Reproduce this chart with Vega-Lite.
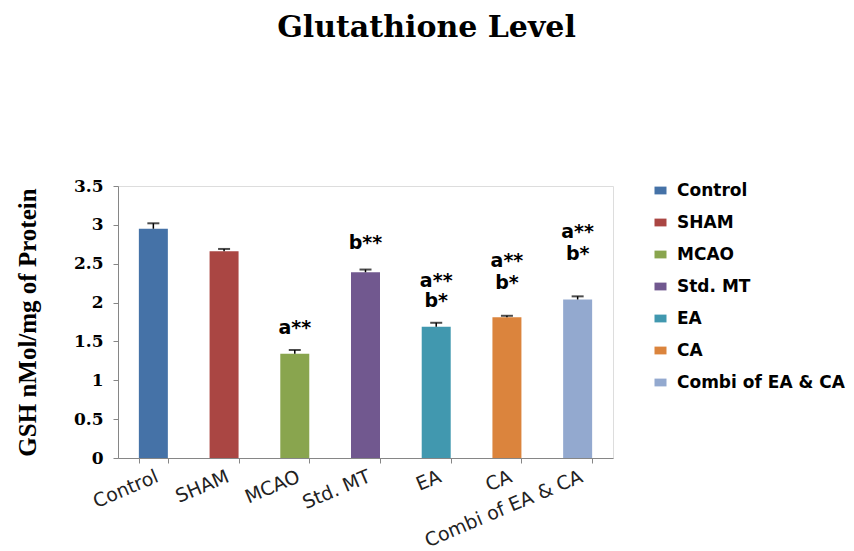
{
  "$schema": "https://vega.github.io/schema/vega-lite/v6.json",
  "width": 495,
  "height": 272,
  "autosize": "none",
  "padding": {"left": 118, "top": 186, "right": 241, "bottom": 93},
  "background": "white",
  "title": {
    "text": "Glutathione Level",
    "font": "DejaVu Serif",
    "fontSize": 30,
    "fontWeight": "bold",
    "color": "black",
    "anchor": "middle",
    "dx": 61,
    "offset": 134
  },
  "config": {
    "axisY": {
      "labelOverlap": false,
      "labelFlush": false,
      "labelBound": false,
      "labelFont": "DejaVu Serif",
      "labelFontSize": 17,
      "labelFontWeight": "bold",
      "labelColor": "black",
      "labelPadding": 10,
      "tickSize": 5,
      "tickColor": "#868686",
      "domainColor": "#868686",
      "grid": false
    }
  },
  "datasets": {
    "groups": [
      {"group": "Control", "gsh": 2.95, "err": 0.07},
      {"group": "SHAM", "gsh": 2.66, "err": 0.03},
      {"group": "MCAO", "gsh": 1.34, "err": 0.05},
      {"group": "Std. MT", "gsh": 2.39, "err": 0.035},
      {"group": "EA", "gsh": 1.69, "err": 0.05},
      {"group": "CA", "gsh": 1.81, "err": 0.02},
      {"group": "Combi of EA & CA", "gsh": 2.04, "err": 0.04}
    ],
    "significance": [
      {"group": "MCAO", "mark": "a**", "at": 1.67},
      {"group": "Std. MT", "mark": "b**", "at": 2.77},
      {"group": "EA", "mark": "a**", "at": 2.28},
      {"group": "EA", "mark": "b*", "at": 2.02},
      {"group": "CA", "mark": "a**", "at": 2.53},
      {"group": "CA", "mark": "b*", "at": 2.25},
      {"group": "Combi of EA & CA", "mark": "a**", "at": 2.91},
      {"group": "Combi of EA & CA", "mark": "b*", "at": 2.63}
    ]
  },
  "encoding": {
    "x": {
      "field": "group",
      "type": "nominal",
      "sort": null,
      "scale": {"paddingInner": 0.59, "paddingOuter": 0.295},
      "axis": {
        "title": null,
        "labelAngle": -23,
        "labelAlign": "right",
        "labelBaseline": "top",
        "labelPadding": 4,
        "labelFont": "DejaVu Sans",
        "labelFontSize": 19,
        "labelColor": "#222222",
        "labelOverlap": false,
        "labelBound": false,
        "tickBand": "extent",
        "tickSize": 5,
        "tickColor": "#868686",
        "domainColor": "#868686"
      }
    }
  },
  "layer": [
    {
      "data": {"name": "groups"},
      "mark": {"type": "bar"},
      "encoding": {
        "y": {
          "field": "gsh",
          "type": "quantitative",
          "scale": {"domain": [0, 3.5], "nice": false},
          "axis": {
            "title": "GSH nMol/mg of Protein",
            "titleFont": "Liberation Serif",
            "titleFontSize": 25,
            "titleFontWeight": "bold",
            "titleColor": "black",
            "titleX": -91,
            "titleY": 136,
            "titleAngle": -90,
            "titleAlign": "center",
            "titleBaseline": "middle",
            "values": [0, 0.5, 1, 1.5, 2, 2.5, 3, 3.5],
            "labelExpr": "datum.value + ''"
          }
        },
        "color": {
          "field": "group",
          "type": "nominal",
          "scale": {
            "domain": ["Control", "SHAM", "MCAO", "Std. MT", "EA", "CA", "Combi of EA & CA"],
            "range": ["#4572A7", "#AA4643", "#89A54E", "#71588F", "#4198AF", "#DB843D", "#93A9CF"]
          },
          "legend": {
            "title": null,
            "orient": "none",
            "legendX": 534,
            "legendY": -4,
            "symbolType": "M-1,-0.65H1V0.65H-1Z",
            "symbolSize": 144,
            "symbolStrokeWidth": 0,
            "labelFont": "DejaVu Sans",
            "labelFontSize": 17,
            "labelFontWeight": "bold",
            "labelColor": "black",
            "labelLimit": 300,
            "labelOffset": 8,
            "rowPadding": 14
          }
        }
      }
    },
    {
      "data": {"name": "groups"},
      "transform": [{"calculate": "datum.gsh + datum.err", "as": "upper"}],
      "mark": {"type": "rule", "color": "black", "strokeWidth": 1.5},
      "encoding": {
        "y": {
          "field": "gsh",
          "type": "quantitative",
          "axis": {"values": [0, 0.5, 1, 1.5, 2, 2.5, 3, 3.5], "labelExpr": "datum.value + ''"}
        },
        "y2": {"field": "upper"}
      }
    },
    {
      "data": {"name": "groups"},
      "transform": [{"calculate": "datum.gsh + datum.err", "as": "upper"}],
      "mark": {"type": "tick", "color": "black", "size": 12, "thickness": 2},
      "encoding": {
        "y": {
          "field": "upper",
          "type": "quantitative",
          "axis": {"values": [0, 0.5, 1, 1.5, 2, 2.5, 3, 3.5], "labelExpr": "datum.value + ''"}
        }
      }
    },
    {
      "data": {"name": "significance"},
      "mark": {
        "type": "text",
        "font": "DejaVu Sans",
        "fontSize": 19,
        "fontWeight": "bold",
        "color": "black",
        "align": "center",
        "baseline": "middle"
      },
      "encoding": {
        "y": {
          "field": "at",
          "type": "quantitative",
          "axis": {"values": [0, 0.5, 1, 1.5, 2, 2.5, 3, 3.5], "labelExpr": "datum.value + ''"}
        },
        "text": {"field": "mark"}
      }
    }
  ]
}
